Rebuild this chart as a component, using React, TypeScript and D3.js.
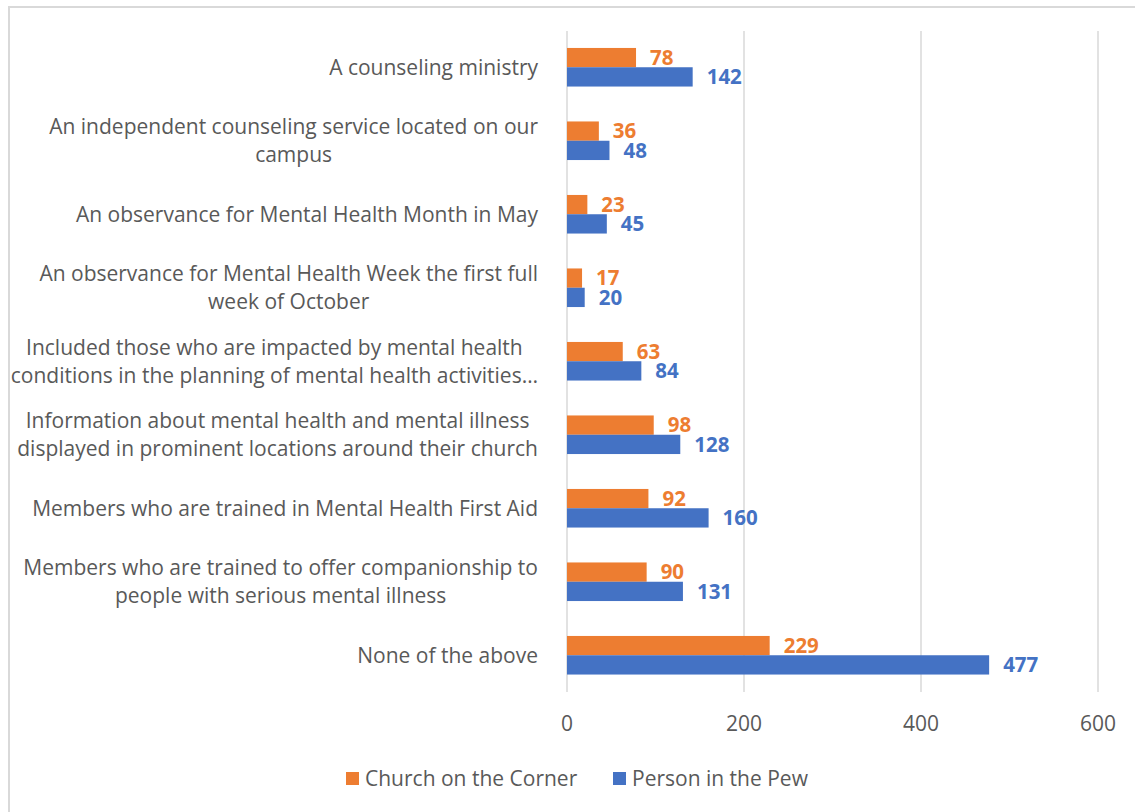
import React, { useEffect, useRef } from "react";
import * as d3 from "d3";

const categoryLines: string[][] = [
  ["A counseling ministry"],
  ["An independent counseling service located on our", "campus"],
  ["An observance for Mental Health Month in May"],
  ["An observance for Mental Health Week the first full", "week of October"],
  ["Included those who are impacted by mental health", "conditions in the planning of mental health activities…"],
  ["Information about mental health and mental illness", "displayed in prominent locations around their church"],
  ["Members who are trained in Mental Health First Aid"],
  ["Members who are trained to offer companionship to", "people with serious mental illness"],
  ["None of the above"],
];
const categories = categoryLines.map((l) => l.join(" "));
const churchValues = [78, 36, 23, 17, 63, 98, 92, 90, 229];
const pewValues = [142, 48, 45, 20, 84, 128, 160, 131, 477];
const seriesNames = ["Church on the Corner", "Person in the Pew"];
const seriesColors = ["#ED7D31", "#4472C4"];
const xTicks = [0, 200, 400, 600];

const W = 1135;
const H = 812;
const FONT = "'Open Sans', 'Liberation Sans', Arial, sans-serif";

export default function App() {
  const ref = useRef<SVGSVGElement>(null);
  useEffect(() => {
    const svg = d3.select(ref.current);
    svg.selectAll("*").remove();

    // chart border
    svg.append("rect").attr("x", 9).attr("y", 7).attr("width", W).attr("height", H)
      .attr("fill", "#fff").attr("stroke", "#d9d9d9").attr("stroke-width", 2);

    const x = d3.scaleLinear().domain([0, 600]).range([567, 1098]);
    const y = d3.scaleBand<string>().domain(categories).range([30.5, 692]).paddingInner(0.475).paddingOuter(0.2375);
    const inner = d3.scaleBand<number>().domain([0, 1]).range([0, y.bandwidth()]);

    // gridlines
    svg.append("g").selectAll("line").data(xTicks).join("line")
      .attr("x1", (d) => x(d)).attr("x2", (d) => x(d)).attr("y1", 31).attr("y2", 692)
      .attr("stroke", "#d9d9d9").attr("stroke-width", 1.5);

    // tick labels
    svg.append("g").selectAll("text").data(xTicks).join("text")
      .attr("x", (d) => x(d)).attr("y", 724).attr("dy", "0.35em").attr("text-anchor", "middle")
      .attr("font-family", FONT).attr("font-size", 21).attr("fill", "#595959")
      .text((d) => String(d));

    const series = [churchValues, pewValues];
    series.forEach((vals, si) => {
      const g = svg.append("g");
      g.selectAll("rect").data(vals).join("rect")
        .attr("x", x(0)).attr("y", (_, i) => (y(categories[i]) as number) + (inner(si) as number))
        .attr("width", (d) => x(d) - x(0)).attr("height", inner.bandwidth())
        .attr("fill", seriesColors[si]);
      g.selectAll("text").data(vals).join("text")
        .attr("x", (d) => x(d) + 14)
        .attr("y", (_, i) => (y(categories[i]) as number) + (inner(si) as number) + inner.bandwidth() / 2)
        .attr("dy", "0.36em")
        .attr("font-family", FONT).attr("font-weight", "bold").attr("font-size", 20.5)
        .attr("fill", seriesColors[si]).text((d) => String(d));
    });

    // category labels
    const lh = 28;
    categoryLines.forEach((lines, i) => {
      const cy = (y(categories[i]) as number) + y.bandwidth() / 2;
      const g = svg.append("g");
      const texts = lines.map((ln, j) =>
        g.append("text").attr("y", cy + (j - (lines.length - 1) / 2) * lh).attr("dy", "0.35em")
          .attr("text-anchor", "middle").attr("font-family", FONT).attr("font-size", 21)
          .attr("fill", "#595959").text(ln)
      );
      const maxW = d3.max(texts, (t) => (t.node() as SVGTextElement).getComputedTextLength()) || 0;
      texts.forEach((t) => t.attr("x", 538 - maxW / 2));
    });

    // legend
    const lg = svg.append("g");
    const legendX = [346, 613];
    seriesNames.forEach((n, i) => {
      lg.append("rect").attr("x", legendX[i]).attr("y", 772).attr("width", 13).attr("height", 13).attr("fill", seriesColors[i]);
      lg.append("text").attr("x", legendX[i] + 19).attr("y", 778.5).attr("dy", "0.35em")
        .attr("font-family", FONT).attr("font-size", 21).attr("fill", "#595959").text(n);
    });
  }, []);
  return (
    <svg ref={ref} width={W} height={H} style={{ position: "absolute", left: 0, top: 0, display: "block" }} />
  );
}
